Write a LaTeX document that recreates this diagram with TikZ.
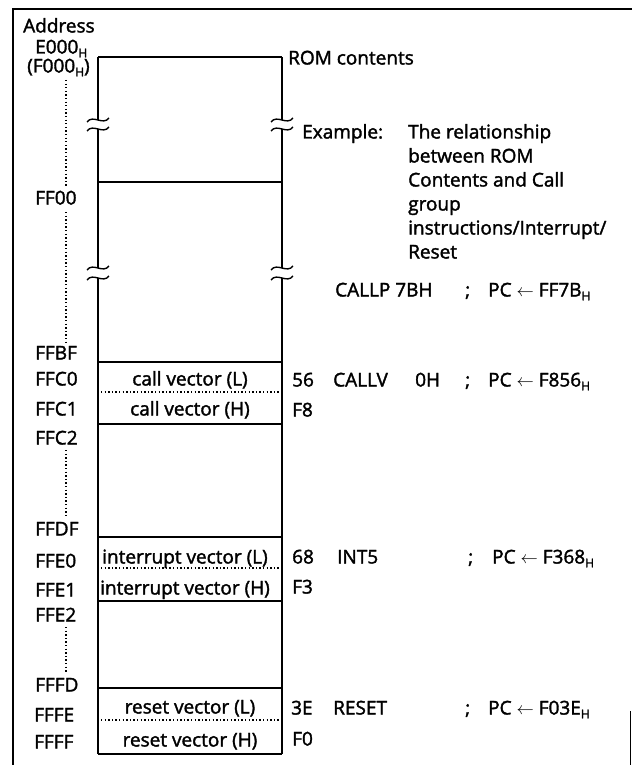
\documentclass[tikz,border=0pt]{standalone}
\usepackage{fontspec}
\setmainfont{Open Sans}[UprightFeatures={FakeBold=1.8}]
\newcommand{\hsb}{\raisebox{-0.2em}{\fontsize{12}{12}\selectfont H}}
\begin{document}
\begin{tikzpicture}[x=1pt,y=-1pt,
  txt/.style={inner sep=0pt,anchor=west,text height=13pt,text depth=0pt,font=\fontsize{19}{22}\selectfont},
  ctxt/.style={txt,anchor=center},
  boxline/.style={line width=1.4pt},
  dotline/.style={line width=1.3pt,dash pattern=on 1.3pt off 2.3pt},
  frame/.style={line width=1.5pt}]
\useasboundingbox (0,0) rectangle (632,765);
% frame
\coordinate (f1) at (13,765);
\coordinate (f2) at (13,9);
\coordinate (f3) at (632,9);
\draw[frame] (f1) -- (f2) -- (f3);
\coordinate (f4) at (630.5,711);
\coordinate (f5) at (630.5,765);
\draw[line width=0.8pt] (f4) -- (f5);
% box outline
\foreach \x in {98,282}{
  \draw[boxline] (\x,57) -- (\x,120);
  \draw[boxline] (\x-11,122) .. controls (\x-5,114) and (\x+5,126) .. (\x+11,118);
  \draw[boxline] (\x-11,131) .. controls (\x-5,123) and (\x+5,135) .. (\x+11,127);
  \draw[boxline] (\x,129) -- (\x,268);
  \draw[boxline] (\x-11,270) .. controls (\x-5,262) and (\x+5,274) .. (\x+11,266);
  \draw[boxline] (\x-11,280) .. controls (\x-5,272) and (\x+5,284) .. (\x+11,276);
  \draw[boxline] (\x,278) -- (\x,754);
}
\foreach \y in {57,182,362,424,537,601,688,754}{
  \draw[boxline] (98,\y) -- (282,\y);
}
\foreach \y in {392,568,720}{
  \draw[dotline] (101,\y) -- (280,\y);
}
% address labels
\node[txt] (addr) at (23,26) {Address};
\node[txt] (e000) at (35,47) {E000\hsb};
\node[txt] (f000) at (27,66) {(F000\hsb)};
\node[txt] (ff00) at (35,198) {FF00};
\node[txt] (ffbf) at (35,353) {FFBF};
\node[txt] (ffc0) at (35,379) {FFC0};
\node[txt] (ffc1) at (35,409) {FFC1};
\node[txt] (ffc2) at (35,438) {FFC2};
\node[txt] (ffdf) at (35,529) {FFDF};
\node[txt] (ffe0) at (35,561) {FFE0};
\node[txt] (ffe1) at (35,590) {FFE1};
\node[txt] (ffe2) at (35,615) {FFE2};
\node[txt] (fffd) at (35,685) {FFFD};
\node[txt] (fffe) at (34,715) {FFFE};
\node[txt] (ffff) at (34,742) {FFFF};
\coordinate (d1a) at (66,80);  \coordinate (d1b) at (66,186);
\coordinate (d2a) at (66,212); \coordinate (d2b) at (66,342);
\coordinate (d3a) at (66,450); \coordinate (d3b) at (66,517);
\coordinate (d4a) at (66,627); \coordinate (d4b) at (66,672);
\draw[dotline] (d1a) -- (d1b);
\draw[dotline] (d2a) -- (d2b);
\draw[dotline] (d3a) -- (d3b);
\draw[dotline] (d4a) -- (d4b);
% box texts
\node[ctxt] (cvl) at (190,379) {call vector (L)};
\node[ctxt] (cvh) at (190,409) {call vector (H)};
\node[ctxt] (ivl) at (185,557) {interrupt vector (L)};
\node[ctxt] (ivh) at (185,588) {interrupt vector (H)};
\node[ctxt] (rvl) at (190,707) {reset vector (L)};
\node[ctxt] (rvh) at (190,740) {reset vector (H)};
% right side
\node[txt] (rom) at (288,58) {ROM contents};
\node[txt] (ex) at (302,132) {Example:};
\node[txt] (rel1) at (408,132) {The relationship};
\node[txt] (rel2) at (408,156) {between ROM};
\node[txt] (rel3) at (408,180) {Contents and Call};
\node[txt] (rel4) at (408,204) {group};
\node[txt] (rel5) at (408,228) {instructions/Interrupt/};
\node[txt] (rel6) at (408,252) {Reset};
\node[txt] (callp) at (335,290) {CALLP 7BH};
\node[txt] (callps) at (465,290) {;};
\node[txt] (callpc) at (488,290) {PC $\leftarrow$ FF7B\hsb};
\node[txt] (v56) at (292,380) {56};
\node[txt] (callv) at (333,380) {CALLV};
\node[txt] (callva) at (415,380) {0H};
\node[txt] (callvs) at (465,380) {;};
\node[txt] (callvc) at (488,380) {PC $\leftarrow$ F856\hsb};
\node[txt] (vf8) at (292,410) {F8};
\node[txt] (v68) at (292,557) {68};
\node[txt] (int5) at (337,557) {INT5};
\node[txt] (ints) at (468,557) {;};
\node[txt] (intc) at (492,557) {PC $\leftarrow$ F368\hsb};
\node[txt] (vf3) at (292,587) {F3};
\node[txt] (v3e) at (291,708) {3E};
\node[txt] (reset) at (333,708) {RESET};
\node[txt] (ress) at (465,708) {;};
\node[txt] (resc) at (488,708) {PC $\leftarrow$ F03E\hsb};
\node[txt] (vf0) at (292,739) {F0};
\end{tikzpicture}
\end{document}
